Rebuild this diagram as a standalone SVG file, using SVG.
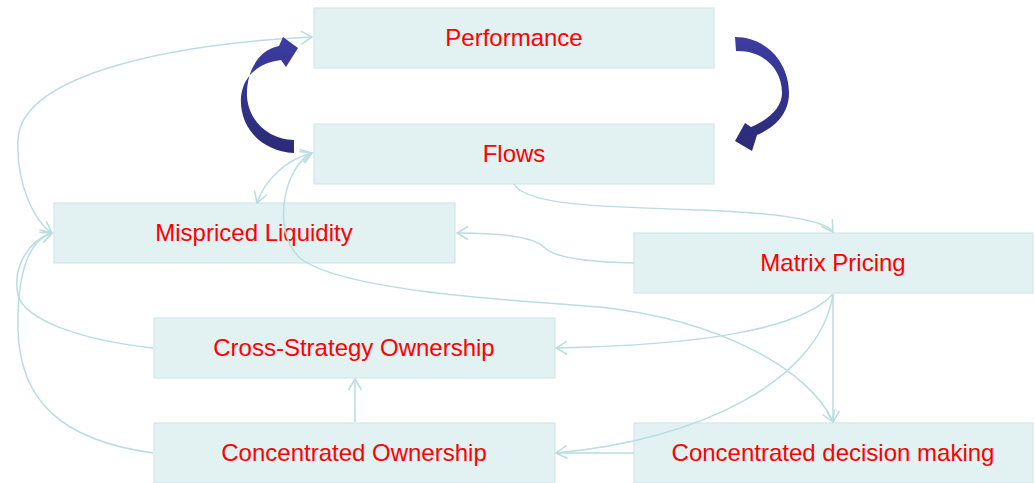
<svg xmlns="http://www.w3.org/2000/svg" width="1035" height="483" viewBox="0 0 1035 483">
<style>
.box{fill:#e2f1f2;stroke:#d2e8ea;stroke-width:1.2}
.lbl{font-family:"Liberation Sans",Arial,sans-serif;font-size:24px;fill:#ff0000;text-anchor:middle}
.c{fill:none;stroke:#b9dde0;stroke-width:1.5}
.e{marker-end:url(#ah)}
.s{marker-start:url(#ah)}
</style>
<defs>
<marker id="ah" markerUnits="userSpaceOnUse" markerWidth="16" markerHeight="16" viewBox="-12 -8 14 16" refX="0" refY="0" orient="auto-start-reverse">
<path d="M-11,-6.5 L0,0 L-11,6.5" fill="none" stroke="#b9dde0" stroke-width="1.5"/>
</marker>
<linearGradient id="bl" x1="0" y1="0" x2="0" y2="1">
<stop offset="0" stop-color="#3c3ca3"/>
<stop offset="1" stop-color="#2b2b76"/>
</linearGradient>
</defs>
<g id="n-performance"><rect class="box" x="314" y="8" width="400" height="60"/><text class="lbl" x="514" y="46">Performance</text></g>
<g id="n-flows"><rect class="box" x="314" y="124" width="400" height="60"/><text class="lbl" x="514" y="162">Flows</text></g>
<g id="n-mispriced"><rect class="box" x="54" y="203" width="401" height="60"/><text class="lbl" x="254" y="241">Mispriced Liquidity</text></g>
<g id="n-matrix"><rect class="box" x="634" y="233" width="399" height="60"/><text class="lbl" x="833" y="271">Matrix Pricing</text></g>
<g id="n-cross"><rect class="box" x="154" y="318" width="401" height="60"/><text class="lbl" x="354" y="356">Cross-Strategy Ownership</text></g>
<g id="n-concown"><rect class="box" x="154" y="423" width="401" height="60"/><text class="lbl" x="354" y="461">Concentrated Ownership</text></g>
<g id="n-concdec"><rect class="box" x="634" y="423" width="399" height="60"/><text class="lbl" x="833" y="461">Concentrated decision making</text></g>
<g id="connectors">
<path class="c s e" d="M52,233 C35,222 16,185 18,140 C20,80 150,45 312,37"/>
<path class="c e" d="M153,348 C80,340 25,320 18,295 C12,265 30,240 52,233"/>
<path class="c e" d="M153,453 C60,440 20,400 18,330 C17,270 30,240 52,233"/>
<path class="c s e" d="M257,203 C265,180 285,160 312,153"/>
<path class="c s e" d="M833,422 C810,370 720,320 600,307 C500,300 340,290 300,258 C270,230 285,165 312,153"/>
<path class="c e" d="M514,184 C525,205 600,207 700,210 C780,213 825,220 833,232"/>
<path class="c e" d="M634,263 C590,262 555,258 545,248 C535,237 500,233 457,233"/>
<path class="c e" d="M833,294 C800,330 700,345 556,348"/>
<path class="c e" d="M833,294 C820,380 700,440 556,453"/>
<path class="c e" d="M833,294 L833,422"/>
<path class="c e" d="M355,422 L355,379"/>
<path class="c" d="M634,453 L556,453"/>
<path d="M294,153 C260,151 239,126 241,97 C243,76 258,63 281,60 L286,67 L298,48 L283,37 L279,46 C258,50 246,72 247,97 C249,121 268,139 294,140 Z" fill="url(#bl)"/>
<path d="M735,37 C766,37 789,62 789,93 C789,113 776,127 757,135 L752,151 L735,141 L745,123 L751,127 C770,119 782,107 782,93 C782,68 762,50 736,51 Z" fill="url(#bl)"/>
</g>
</svg>
